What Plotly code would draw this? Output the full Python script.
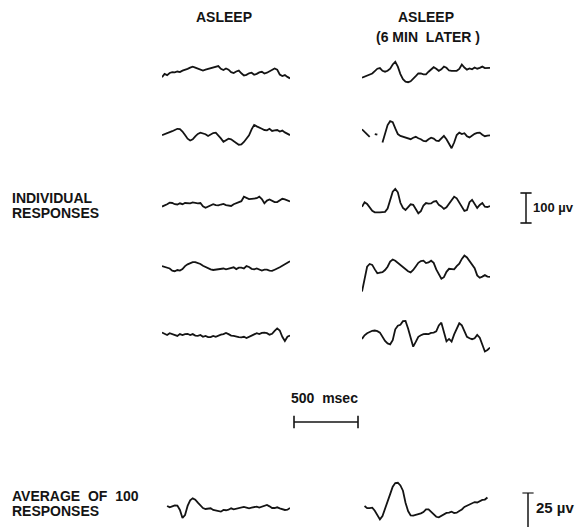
import plotly.graph_objects as go

# ---------------------------------------------------------------- data
# sample times along each one-second sweep (ms)
T_MS = list(range(0, 1001, 20))

# individual responses while asleep (µV)
ASLEEP_1 = [-15, -4, -8, -1, 2, 1, 4, 2, 7, 9, 13, 17, 20, 17, 14, 11, 7, 10, 12, 14,
            18, 20, 22, 13, 9, 14, 10, 2, -1, 4, 7, -2, -9, -7, -2, 0, -7, -4, 1, 3,
            -3, 0, 4, 8, 14, 10, -6, -11, -8, -14, -19]
ASLEEP_2 = [-6, -3, -1, 2, 7, 11, 15, 14, 6, -6, -18, -24, -20, -10, -2, 2, 0, -3, -9, -3,
            1, 2, -6, -17, -28, -23, -18, -20, -25, -32, -38, -37, -29, -19, -7, 13, 28, 23, 20, 15,
            11, 10, 15, 8, 10, 11, 6, 9, 3, -1, -6]
ASLEEP_3 = [-11, -8, -3, 2, 1, -3, -4, 0, -3, 1, 1, 0, 3, 1, 0, 1, -10, -15, -11, -7,
            -3, -6, -7, -4, -2, -6, -8, -9, -3, 1, 3, 7, 22, 19, 14, 15, 17, 17, 22, 14,
            0, 9, 13, 8, 4, 4, 10, 15, 13, 9, 6]
ASLEEP_4 = [2, 0, -3, -6, -13, -15, -11, -13, -8, 2, 8, 11, 15, 15, 12, 9, 3, -1, -6, -9,
            -11, -10, -8, -7, -6, -9, -6, -3, -2, -8, -3, -3, -6, 2, -1, -7, -9, -6, -10, -13,
            -10, -10, -13, -14, -10, -7, -2, 3, 9, 14, 18]
ASLEEP_5 = [8, 4, 0, 6, 3, 0, -3, 3, 0, 3, 4, 0, 3, -2, -3, 0, -6, -3, -7, -7,
            -3, -6, -2, 1, 3, 7, 3, -2, -3, -6, -7, -8, -6, -10, -7, -2, 2, 6, 3, 7,
            8, 6, 1, 4, 14, 22, 15, -6, -20, -6, -2]

# individual responses six minutes later (µV); None = pen lifted
LATER_1 = [-20, -17, -14, -10, -6, 2, 10, 12, 3, 0, 3, 10, 24, 33, 17, -8, -25, -33, -35, -32,
           -25, -15, -6, -6, -9, -9, 0, 7, 15, 10, 3, 8, 17, 13, 4, 3, 4, 3, 9, 24,
           14, 7, 11, 8, 14, 10, 13, 17, 12, 13, 13]
LATER_2 = [19, 10, 1, -6, None, 3, 1, None, -25, 6, 33, 46, 43, 22, 3, -3, -6, -8, -10, -14,
           -9, -6, -11, -14, -20, -21, -14, -9, -12, -19, -20, -10, -3, -14, -30, -44, -25, 0, 8, 3,
           6, -4, -8, -1, 4, 7, 8, 1, -4, -2, -1]
LATER_3 = [0, 15, 9, -2, -14, -19, -20, -19, -18, -17, -6, 24, 50, 59, 48, 13, -4, -11, -1, 8,
           6, -6, -22, -15, 4, 12, 10, 11, 17, 19, 6, 1, -7, -2, 9, 24, 33, 28, 14, -2,
           -14, -11, 15, 23, 9, -4, 6, 12, 0, -1, 2]
LATER_4 = [-72, -33, 11, 20, 17, 2, -11, -9, -7, 0, 11, 28, 35, 31, 24, 17, 7, 1, -4, -8,
           0, 12, 24, 30, 31, 23, 25, 31, 24, 2, -14, -29, -24, -6, 4, 2, 2, 13, 21, 37,
           48, 42, 31, 21, 6, -18, -26, -22, -17, -22, -23]
LATER_5 = [-13, -1, 6, 11, 14, 15, 13, 8, -6, -20, -28, -31, -17, 19, 31, 34, 46, 47, 22, -9,
           -39, -23, -6, -1, 3, 4, 3, 7, 8, 12, 32, 41, 11, -21, -13, -22, 2, 22, 39, 32,
           14, -6, -11, -14, -11, 0, -9, -33, -55, -50, -42]

# averages of 100 responses (µV)
AVG_ASLEEP = [None, None, 1.7, 0.7, 1.4, 2.1, 1.9, -1.2, -6.9, -4.8, 1.7, 5.7, 7.1, 6.2, 4.0, 1.9, 0.2, -0.5, -0.5, 0,
              -1.2, -1.7, -2.1, -2.4, -1.2, -1.4, -1.0, 0, -0.7, -0.2, 0.2, 0.7, 1.0, 0.5, 0, 0.5, 1.0, 1.2, 0.5, 1.2,
              1.9, 2.4, 1.4, 0.2, 0.2, 0.7, 0, -0.5, -1.2, -1.0, 0.2]
AVG_LATER = [None, 4.8, 3.3, 3.3, 3.6, 1.4, -1.7, -4.8, -2.4, 2.4, 7.9, 13.3, 18.6, 21.2, 21.4, 19.5, 15.7, 7.1, 1.2, -1.9,
             -2.1, -1.7, -1.2, -0.5, 0.5, 2.4, 2.4, 0.7, -1.0, -2.9, -3.3, -2.4, -1.0, -0.2, 0, 0.7, -0.2, 0, 1.2, 2.3,
             4.1, 5.1, 5.5, 6.6, 7.6, 7.3, 8.4, 9.1, 9.4, 10.9, None]

# calibration bars
TIME_BAR_MS = 500
INDIV_BAR_UV = 100
AVG_BAR_UV = 25

# ------------------------------------------------------------- geometry
W, H = 578, 527
INK = "#141414"
FONT = "Liberation Sans"
PX_PER_MS = 0.128
PX_PER_UV = 0.30        # individual sweeps
PX_PER_UV_AVG = 1.40    # averaged responses
LEFT_COL, RIGHT_COL = 162, 362

fig = go.Figure()
n_axes = 0


def new_axes(x0, x1, xrange, y_top, y_bot, yrange):
    """Create a hidden x/y axis pair occupying a pixel box of the page."""
    global n_axes
    n_axes += 1
    s = "" if n_axes == 1 else str(n_axes)
    fig.update_layout(**{
        f"xaxis{s}": dict(domain=[x0 / W, x1 / W], range=xrange, visible=False,
                          fixedrange=True, anchor=f"y{s}"),
        f"yaxis{s}": dict(domain=[1 - y_bot / H, 1 - y_top / H], range=yrange,
                          visible=False, fixedrange=True, anchor=f"x{s}"),
    })
    return f"x{s}", f"y{s}"


def sweep_axes(col_x, centre, px_per_uv, half=40):
    y_top = centre - half
    y_bot = min(centre + half, H)
    return new_axes(col_x, col_x + PX_PER_MS * T_MS[-1], [T_MS[0], T_MS[-1]],
                    y_top, y_bot,
                    [-(y_bot - centre) / px_per_uv, (centre - y_top) / px_per_uv])


def draw_sweep(values, axes):
    fig.add_trace(go.Scatter(
        x=T_MS, y=values, mode="lines", connectgaps=False,
        line=dict(color=INK, width=1.8), hoverinfo="skip",
        xaxis=axes[0], yaxis=axes[1]))


# (asleep sweep, later sweep, baseline of left column, baseline of right column)
rows = [
    (ASLEEP_1, LATER_1, 72.7, 71.7),
    (ASLEEP_2, LATER_2, 133.3, 135.0),
    (ASLEEP_3, LATER_3, 203.3, 206.7),
    (ASLEEP_4, LATER_4, 266.7, 270.0),
    (ASLEEP_5, LATER_5, 335.0, 335.0),
]
for left, right, c_left, c_right in rows:
    draw_sweep(left, sweep_axes(LEFT_COL, c_left, PX_PER_UV))
    draw_sweep(right, sweep_axes(RIGHT_COL, c_right, PX_PER_UV))

draw_sweep(AVG_ASLEEP, sweep_axes(LEFT_COL, 508.3, PX_PER_UV_AVG))
draw_sweep(AVG_LATER, sweep_axes(RIGHT_COL, 512.7, PX_PER_UV_AVG))

# --- 500 msec time bar
bar_x0, bar_y = 294, 422
ax = new_axes(bar_x0 - 10, bar_x0 + 80,
              [-10 / PX_PER_MS, 80 / PX_PER_MS], bar_y - 10, bar_y + 10, [-1, 1])
fig.add_trace(go.Scatter(
    x=[0, TIME_BAR_MS], y=[0, 0], mode="lines+markers", cliponaxis=False,
    line=dict(color=INK, width=1.5),
    marker=dict(symbol="line-ns", size=9, color=INK, line=dict(color=INK, width=1.6)),
    hoverinfo="skip", xaxis=ax[0], yaxis=ax[1]))

# --- 100 µV bar for the individual sweeps
bar_x, bar_c = 526, 208
ax = new_axes(bar_x - 6, bar_x + 6, [-1, 1], bar_c - 20, bar_c + 20,
              [-20 / PX_PER_UV, 20 / PX_PER_UV])
fig.add_trace(go.Scatter(
    x=[0, 0], y=[-INDIV_BAR_UV / 2, INDIV_BAR_UV / 2], mode="lines+markers", cliponaxis=False,
    line=dict(color=INK, width=1.5),
    marker=dict(symbol="line-ew", size=8, color=INK, line=dict(color=INK, width=1.6)),
    hoverinfo="skip", xaxis=ax[0], yaxis=ax[1]))

# --- 25 µV bar for the averages (foot runs off the page)
bar_x, bar_foot = 528, 528
ax = new_axes(bar_x - 6, bar_x + 6, [-1, 1], 486, H,
              [(bar_foot - H) / PX_PER_UV_AVG, (bar_foot - 486) / PX_PER_UV_AVG])
fig.add_trace(go.Scatter(
    x=[0, 0], y=[0, AVG_BAR_UV], mode="lines+markers", cliponaxis=False,
    line=dict(color=INK, width=1.5),
    marker=dict(symbol="line-ew", size=[0, 8], color=INK, line=dict(color=INK, width=1.6)),
    hoverinfo="skip", xaxis=ax[0], yaxis=ax[1]))

# ---------------------------------------------------------------- text
NB = "\u00a0"


def label(text, x, y, anchor="center", size=14):
    fig.add_annotation(
        text=text, x=x / W, y=1 - y / H, xref="paper", yref="paper",
        xanchor=anchor, yanchor="middle", showarrow=False, borderpad=0,
        font=dict(family=FONT, size=size, color=INK, weight="bold"))


label("ASLEEP", 224, 17)
label("ASLEEP", 426, 17)
label(f"(6 MIN {NB}LATER )", 428, 37)
label("INDIVIDUAL", 11, 198, "left")
label("RESPONSES", 11, 213, "left")
label(f"AVERAGE {NB}OF {NB}100", 11, 496, "left")
label("RESPONSES", 11, 511, "left")
label(f"500 {NB}msec", 324, 398)
label("100 µv", 532, 207, "left", 13)
label("25 µv", 535, 507, "left", 15)

fig.update_layout(
    width=W, height=H, autosize=False,
    margin=dict(l=0, r=0, t=0, b=0, pad=0),
    paper_bgcolor="white", plot_bgcolor="rgba(0,0,0,0)",
    showlegend=False,
)

fig.write_html("out.html", config={"displayModeBar": False, "staticPlot": True},
               post_script="document.body.style.margin='0';")
